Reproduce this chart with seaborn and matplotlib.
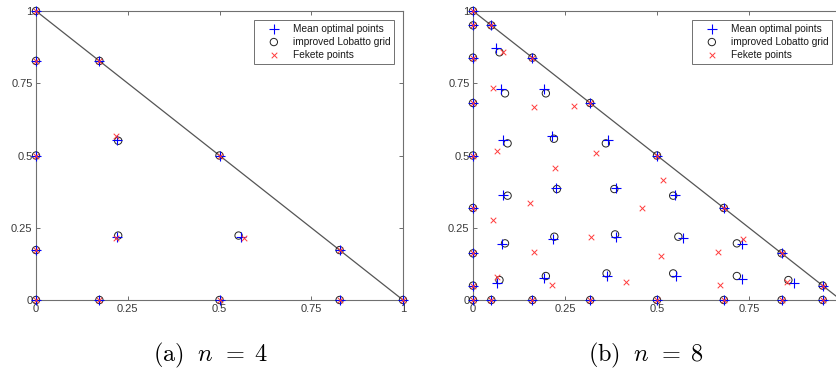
import numpy as np
import pandas as pd
import matplotlib
matplotlib.use("Agg")
import matplotlib.pyplot as plt
import seaborn as sns

# ---------------- data ----------------
tick_vals = [0, 0.25, 0.5, 0.75, 1]
tick_labels = ["0", "0.25", "0.5", "0.75", "1"]
legend_labels = ["Mean optimal points", "improved Lobatto grid", "Fekete points"]
captions = [r"$\mathrm{(a)}\ \;n\;\,=\;4$", r"$\mathrm{(b)}\ \;n\;\,=\;8$"]
hyp_x = [0, 1]
hyp_y = [1, 0]

# n = 4 : boundary nodes (shared by all three sets)
edge4_x = [0, 0.1727, 0.5, 0.8273, 1, 0, 0, 0, 0, 0.1727, 0.5, 0.8273]
edge4_y = [0, 0, 0, 0, 0, 0.1727, 0.5, 0.8273, 1, 0.8273, 0.5, 0.1727]
# n = 4 : interior nodes
mop4_x = [0.221, 0.221, 0.559]
mop4_y = [0.555, 0.219, 0.219]
lob4_x = [0.224, 0.224, 0.552]
lob4_y = [0.551, 0.223, 0.223]
fek4_x = [0.218, 0.218, 0.566]
fek4_y = [0.566, 0.216, 0.216]

# n = 8 : boundary nodes
edge8_x = [0, 0.0498, 0.1614, 0.3184, 0.5, 0.6816, 0.8386, 0.9502, 1,
           0, 0, 0, 0, 0, 0, 0, 0,
           0.0498, 0.1614, 0.3184, 0.5, 0.6816, 0.8386, 0.9502]
edge8_y = [0, 0, 0, 0, 0, 0, 0, 0, 0,
           0.0498, 0.1614, 0.3184, 0.5, 0.6816, 0.8386, 0.9502, 1,
           0.9502, 0.8386, 0.6816, 0.5, 0.3184, 0.1614, 0.0498]
# n = 8 : interior nodes
mop8_x = [0.066, 0.194, 0.365, 0.552, 0.730, 0.872,
          0.078, 0.217, 0.389, 0.572, 0.730,
          0.082, 0.226, 0.389, 0.549,
          0.082, 0.216, 0.366,
          0.076, 0.194,
          0.062]
mop8_y = [0.060, 0.075, 0.083, 0.083, 0.074, 0.060,
          0.194, 0.212, 0.219, 0.213, 0.193,
          0.363, 0.386, 0.386, 0.363,
          0.554, 0.567, 0.554,
          0.729, 0.729,
          0.873]
lob8_x = [0.072, 0.198, 0.363, 0.544, 0.717, 0.857,
          0.087, 0.221, 0.386, 0.558, 0.717,
          0.094, 0.228, 0.384, 0.544,
          0.094, 0.220, 0.361,
          0.087, 0.198,
          0.072]
lob8_y = [0.069, 0.083, 0.092, 0.092, 0.083, 0.069,
          0.196, 0.219, 0.227, 0.219, 0.196,
          0.361, 0.384, 0.384, 0.361,
          0.542, 0.558, 0.542,
          0.715, 0.715,
          0.857]
fek8_x = [0.053, 0.082, 0.167, 0.275, 0.066, 0.222, 0.334, 0.053, 0.155, 0.517,
          0.460, 0.167, 0.320, 0.511, 0.665, 0.733, 0.066, 0.216, 0.415, 0.672, 0.852]
fek8_y = [0.732, 0.857, 0.667, 0.671, 0.517, 0.458, 0.510, 0.276, 0.334, 0.414,
          0.317, 0.165, 0.219, 0.153, 0.165, 0.212, 0.081, 0.051, 0.063, 0.051, 0.063]

panels = [
    dict(edge=(edge4_x, edge4_y), mop=(mop4_x, mop4_y), lob=(lob4_x, lob4_y), fek=(fek4_x, fek4_y)),
    dict(edge=(edge8_x, edge8_y), mop=(mop8_x, mop8_y), lob=(lob8_x, lob8_y), fek=(fek8_x, fek8_y)),
]

# ---------------- styling ----------------
sns.set_theme(style="white")
plt.rcParams["font.family"] = ["Liberation Sans", "DejaVu Sans"]
plt.rcParams["mathtext.fontset"] = "cm"

W, H = 836, 369
fig = plt.figure(figsize=(W / 100, H / 100), dpi=100)
axes = [
    fig.add_axes([36 / W, 69 / H, 367 / W, 289 / H]),
    fig.add_axes([473 / W, 69 / H, 368 / W, 289 / H]),
]
caption_x = [210 / W, 646 / W]


def frame(xs, ys):
    return pd.DataFrame({"x": list(xs[0]) + list(ys[0]), "y": list(xs[1]) + list(ys[1])})


for i, (ax, p, cap, cx) in enumerate(zip(axes, panels, captions, caption_x)):
    sns.lineplot(x=hyp_x, y=hyp_y, ax=ax, color="#555555", linewidth=0.9, zorder=1)

    d_m = frame(p["edge"], p["mop"])
    d_l = frame(p["edge"], p["lob"])
    d_f = frame(p["edge"], p["fek"])

    sns.scatterplot(data=d_m, x="x", y="y", ax=ax, marker="+", s=42, color="#0000ff",
                    edgecolor=None, linewidth=0.8, clip_on=False, zorder=4.5,
                    label=legend_labels[0])
    sns.scatterplot(data=d_l, x="x", y="y", ax=ax, marker="o", s=28, color="#222222",
                    facecolor="none", edgecolor="#222222", linewidth=0.7, clip_on=False,
                    zorder=4, label=legend_labels[1])
    sns.scatterplot(data=d_f, x="x", y="y", ax=ax, marker="x", s=16, color="#ff3b3b",
                    edgecolor=None, linewidth=0.7, clip_on=False, zorder=5,
                    label=legend_labels[2])

    ax.set_xlim(0, 1)
    ax.set_ylim(0, 1)
    ax.set_xticks(tick_vals)
    ax.set_xticklabels(tick_labels)
    ax.set_yticks(tick_vals)
    ax.set_yticklabels(tick_labels)
    ax.set_xlabel("")
    ax.set_ylabel("")
    ax.tick_params(axis="both", direction="in", length=3, width=0.6, colors="#555555",
                   labelcolor="#3a3a3a", labelsize=8, top=True, right=True,
                   bottom=True, left=True)
    ax.tick_params(axis="x", pad=3)
    ax.tick_params(axis="y", pad=2.5)
    for s in ax.spines.values():
        s.set_color("#707070")
        s.set_linewidth(0.8)
        s.set_visible(True)

    if i == 1:
        # the right panel is cropped at x ~ 0.98 in the reference: its "1" label is not shown
        ax.get_xticklabels()[-1].set_visible(False)

    leg = ax.legend(loc="upper right", fontsize=7.3, frameon=True, fancybox=False,
                    framealpha=1, edgecolor="#707070", borderpad=0.4, handlelength=3.2,
                    handletextpad=0.26, labelspacing=0.3, borderaxespad=0.85,
                    scatterpoints=1)
    leg.get_frame().set_linewidth(0.7)
    for t in leg.get_texts():
        t.set_color("#1a1a1a")

    fig.text(cx, 1 - 355 / H, cap, ha="center", va="center", fontsize=17.5, color="black")

fig.savefig("out.png", dpi=100)
